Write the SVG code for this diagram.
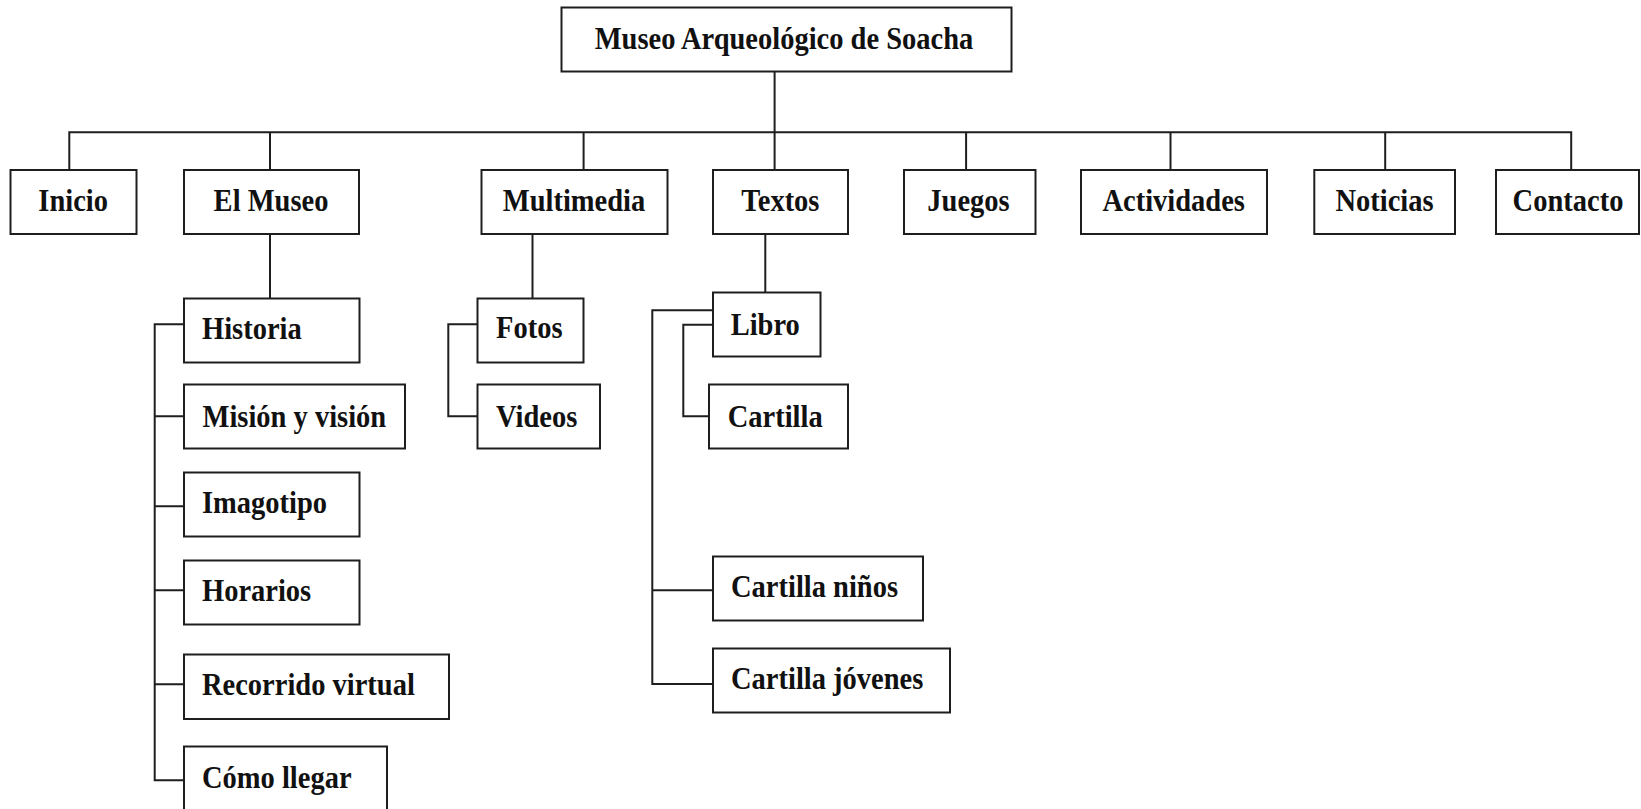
<svg xmlns="http://www.w3.org/2000/svg" width="1641" height="809" viewBox="0 0 1641 809">
<style>
.box{fill:#fff;stroke:#1e1e1e;stroke-width:2}
.lbl{font-family:"Liberation Serif","Times New Roman",serif;font-weight:bold;font-size:28.5px;fill:#111}
.c{text-anchor:middle}
.conn{fill:none;stroke:#1e1e1e;stroke-width:2}
</style>
<rect width="1641" height="809" fill="#fff"/>
<g id="connectors" class="conn">
<path d="M774.6,71.7V170"/>
<path d="M69.3,170V132.3H1571.2V170"/>
<path d="M270,132.3V170M583.6,132.3V170M966.1,132.3V170M1170.5,132.3V170M1385.2,132.3V170"/>
<path d="M270,234V298.5M532.5,234V298.5M765.3,234V292.5"/>
<path d="M184,324.3H154.7V780.3H184M154.7,416.3H184M154.7,506.3H184M154.7,590.3H184M154.7,684.3H184"/>
<path d="M477.5,324.3H448.3V416.3H477.5"/>
<path d="M713,310.3H652.3V684H713M652.3,590.3H713"/>
<path d="M713,324.7H683.3V416.3H709"/>
</g>
<g id="root"><rect class="box" x="561.5" y="7.5" width="450" height="64"/><text class="lbl c" transform="translate(784,49.3) scale(1,1.08)">Museo Arqueológico de Soacha</text></g>
<g id="inicio"><rect class="box" x="10.5" y="170" width="126" height="64"/><text class="lbl c" transform="translate(73.2,211) scale(1,1.08)">Inicio</text></g>
<g id="elmuseo"><rect class="box" x="184" y="170" width="175" height="64"/><text class="lbl c" transform="translate(271,211) scale(1,1.08)">El Museo</text></g>
<g id="multimedia"><rect class="box" x="481.5" y="170" width="186" height="64"/><text class="lbl c" transform="translate(574,211) scale(1,1.08)">Multimedia</text></g>
<g id="textos"><rect class="box" x="713" y="170" width="135" height="64"/><text class="lbl c" transform="translate(780.4,211) scale(1,1.08)">Textos</text></g>
<g id="juegos"><rect class="box" x="904" y="170" width="131.5" height="64"/><text class="lbl c" transform="translate(968.5,211) scale(1,1.08)">Juegos</text></g>
<g id="actividades"><rect class="box" x="1081" y="170" width="186" height="64"/><text class="lbl c" transform="translate(1173.7,211) scale(1,1.08)">Actividades</text></g>
<g id="noticias"><rect class="box" x="1314.3" y="170" width="140.7" height="64"/><text class="lbl c" transform="translate(1384.5,211) scale(1,1.08)">Noticias</text></g>
<g id="contacto"><rect class="box" x="1496" y="170" width="143" height="64"/><text class="lbl c" transform="translate(1568,211) scale(1,1.08)">Contacto</text></g>
<g id="historia"><rect class="box" x="184" y="298.5" width="175.5" height="64"/><text class="lbl" transform="translate(202,338.5) scale(1,1.08)">Historia</text></g>
<g id="mision"><rect class="box" x="184" y="384.5" width="221" height="64"/><text class="lbl" transform="translate(202.5,426.7) scale(1,1.08)">Misión y visión</text></g>
<g id="imagotipo"><rect class="box" x="184" y="472.5" width="175.5" height="64"/><text class="lbl" transform="translate(202,513.3) scale(1,1.08)">Imagotipo</text></g>
<g id="horarios"><rect class="box" x="184" y="560.5" width="175.5" height="64"/><text class="lbl" transform="translate(202,601) scale(1,1.08)">Horarios</text></g>
<g id="recorrido"><rect class="box" x="184" y="654.5" width="265" height="64.5"/><text class="lbl" transform="translate(202,695) scale(1,1.08)">Recorrido virtual</text></g>
<g id="comollegar"><rect class="box" x="184" y="746.5" width="203" height="70"/><text class="lbl" transform="translate(202,787.7) scale(1,1.08)">Cómo llegar</text></g>
<g id="fotos"><rect class="box" x="477.5" y="298.5" width="106" height="64"/><text class="lbl" transform="translate(496,338.3) scale(1,1.08)">Fotos</text></g>
<g id="videos"><rect class="box" x="477.5" y="384.5" width="122.5" height="64"/><text class="lbl" transform="translate(496,426.7) scale(1,1.08)">Videos</text></g>
<g id="libro"><rect class="box" x="713" y="292.5" width="107.5" height="64"/><text class="lbl" transform="translate(730.7,335.3) scale(1,1.08)">Libro</text></g>
<g id="cartilla"><rect class="box" x="709" y="384.5" width="139" height="64"/><text class="lbl" transform="translate(727.7,426.7) scale(1,1.08)">Cartilla</text></g>
<g id="cartillaninos"><rect class="box" x="713" y="556.5" width="210" height="64"/><text class="lbl" transform="translate(731,597) scale(1,1.08)">Cartilla niños</text></g>
<g id="cartillajovenes"><rect class="box" x="713" y="648.5" width="237" height="64"/><text class="lbl" transform="translate(731,689) scale(1,1.08)">Cartilla jóvenes</text></g>
</svg>
